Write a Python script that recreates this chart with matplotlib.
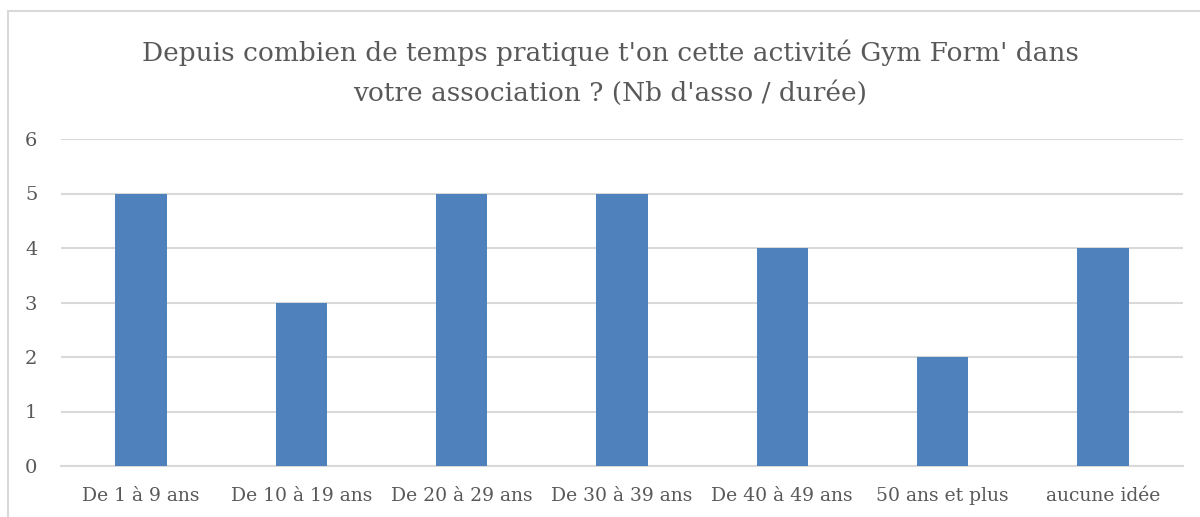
import matplotlib.pyplot as plt
from matplotlib.patches import Rectangle

categories = ["De 1 à 9 ans", "De 10 à 19 ans", "De 20 à 29 ans", "De 30 à 39 ans",
              "De 40 à 49 ans", "50 ans et plus", "aucune idée"]
counts = [5, 3, 5, 5, 4, 2, 4]
yticks = [0, 1, 2, 3, 4, 5, 6]
title = "Depuis combien de temps pratique t'on cette activité Gym Form' dans\nvotre association ? (Nb d'asso / durée)"

text_color = "#595959"
grid_color = "#d9d9d9"
bar_color = "#4f81bd"

plt.rcParams["font.family"] = ["DejaVu Serif"]

fig = plt.figure(figsize=(12, 5.17), dpi=100)
# outer chart frame (bottom/right edges run off the picture)
fig.patches.append(Rectangle((8 / 1200, -0.1), 1.2, 1 - 11 / 517 + 0.1,
                             transform=fig.transFigure, fill=False,
                             edgecolor=grid_color, linewidth=1.5))

ax = fig.add_axes([61 / 1200, 1 - 466 / 517, 1122 / 1200, (466 - 139) / 517])
x = range(len(categories))
ax.bar(x, counts, width=0.32, color=bar_color, zorder=3)
ax.set_xlim(-0.5, len(categories) - 0.5)
ax.set_ylim(0, 6)
ax.set_yticks(yticks)
ax.yaxis.grid(True, color=grid_color, linewidth=1.5, zorder=0)
ax.set_xticks(list(x))
ax.set_xticklabels(categories)
ax.tick_params(axis="both", length=0, labelsize=13.5, colors=text_color)
ax.tick_params(axis="y", pad=17, labelsize=14)
ax.tick_params(axis="x", pad=15)
for s in ["top", "right", "left"]:
    ax.spines[s].set_visible(False)
ax.spines["bottom"].set_color(grid_color)
ax.spines["bottom"].set_linewidth(1.5)

fig.text(610 / 1200, 1 - 73 / 517, title, ha="center", va="center",
         fontsize=19, color=text_color, linespacing=1.7)

fig.savefig("out.png", dpi=100)
